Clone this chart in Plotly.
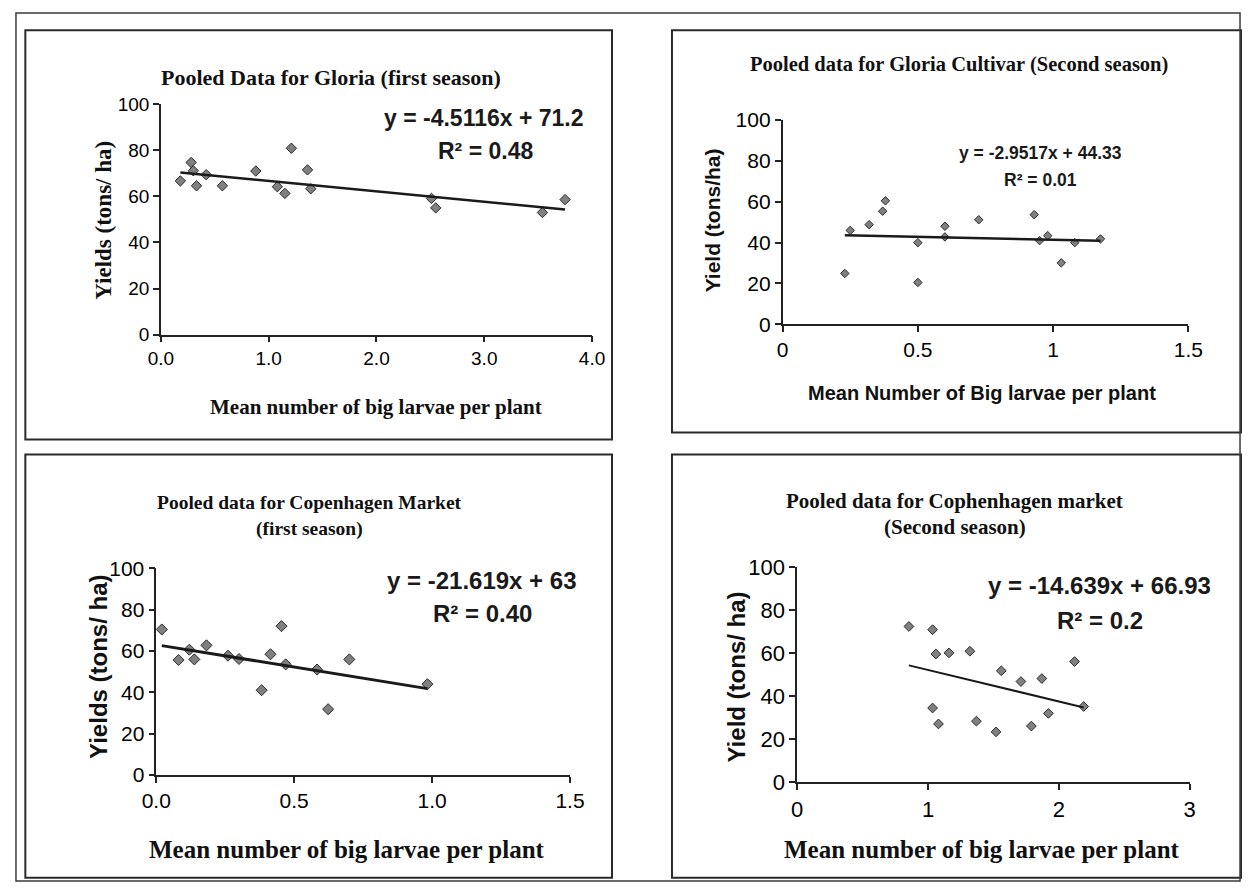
import plotly.graph_objects as go

W, H = 1256, 895

# ---------------- data ----------------
# Panel 1: Gloria, first season
p1_x = [0.18, 0.28, 0.30, 0.33, 0.42, 0.57, 0.88, 1.08, 1.15, 1.21, 1.36, 1.39, 2.51, 2.55, 3.54, 3.75]
p1_y = [66.7, 74.7, 71.1, 64.6, 69.4, 64.6, 71.0, 64.2, 61.3, 80.9, 71.5, 63.3, 59.1, 55.0, 53.0, 58.6]
p1_slope, p1_intercept = -4.5116, 71.2
p1_eq = "y = -4.5116x + 71.2"
p1_r2 = "R² = 0.48"
p1_xticks = [0, 1, 2, 3, 4]

# Panel 2: Gloria cultivar, second season
p2_x = [0.23, 0.25, 0.32, 0.37, 0.38, 0.50, 0.50, 0.60, 0.60, 0.725, 0.93, 0.95, 0.98, 1.03, 1.08, 1.175]
p2_y = [24.9, 46.0, 48.8, 55.4, 60.5, 40.0, 20.5, 48.0, 42.8, 51.2, 53.7, 41.0, 43.4, 30.1, 40.0, 41.8]
p2_slope, p2_intercept = -2.9517, 44.33
p2_eq = "y = -2.9517x + 44.33"
p2_r2 = "R² = 0.01"
p2_xticks = [0, 0.5, 1, 1.5]

# Panel 3: Copenhagen Market, first season
p3_x = [0.02, 0.081, 0.12, 0.138, 0.182, 0.26, 0.30, 0.382, 0.414, 0.454, 0.469, 0.583, 0.623, 0.70, 0.983]
p3_y = [70.4, 55.6, 60.6, 55.9, 62.7, 57.7, 56.1, 41.0, 58.4, 72.0, 53.5, 51.0, 31.8, 55.9, 43.9]
p3_slope, p3_intercept = -21.619, 63.0
p3_eq = "y = -21.619x + 63"
p3_r2 = "R² = 0.40"
p3_xticks = [0, 0.5, 1.0, 1.5]

# Panel 4: Copenhagen market, second season
p4_x = [0.854, 1.035, 1.06, 1.16, 1.32, 1.035, 1.08, 1.37, 1.52, 1.56, 1.71, 1.79, 1.87, 1.92, 2.12, 2.19]
p4_y = [72.5, 71.0, 59.7, 60.2, 61.0, 34.6, 27.2, 28.5, 23.5, 51.9, 46.9, 26.2, 48.3, 32.1, 56.2, 35.3]
p4_slope, p4_intercept = -14.639, 66.93
p4_eq = "y = -14.639x + 66.93"
p4_r2 = "R² = 0.2"
p4_xticks = [0, 1, 2, 3]

y_ticks = [0, 20, 40, 60, 80, 100]

SERIF = "Liberation Serif"
SANS = "Liberation Sans"

# layout helpers: target picture pixels -> figure pixels -> paper fractions
PADX, PADY = 15.0, 11.0


def sx(t):
    return min(max(t * (W + 2 * PADX) / W - PADX, 0.0), W)


def sy(t):
    return min(max(t * (H + 2 * PADY) / H - PADY, 0.0), H)


def px(t):
    return sx(t) / W


def py(t):
    return 1 - sy(t) / H


panels = [
    dict(x=p1_x, y=p1_y, m=p1_slope, b=p1_intercept, eq=p1_eq, r2=p1_r2, xt=p1_xticks, xr=[0, 4], fmt=".1f",
         area=(160.7, 592, 103.3, 334.7), tick_font=19, msize=8, lw=2.5,
         title=["Pooled Data for Gloria (first season)"], title_pos=[(331, 77)], title_size=22,
         xtitle="Mean number of big larvae per plant", xtitle_font=SERIF, xtitle_size=21, xtitle_pos=(376, 407),
         ytitle="Yields (tons/ ha)", ytitle_font=SERIF, ytitle_size=23, ytitle_pos=(103, 220),
         eq_size=23, eq_pos=(484, 117), r2_pos=(485, 150)),
    dict(x=p2_x, y=p2_y, m=p2_slope, b=p2_intercept, eq=p2_eq, r2=p2_r2, xt=p2_xticks, xr=[0, 1.5], fmt="",
         area=(782.7, 1188.7, 119.3, 324.3), tick_font=21, msize=6.5, lw=2.5,
         title=["Pooled data for Gloria Cultivar (Second season)"], title_pos=[(959, 63)], title_size=20.5,
         xtitle="Mean Number of Big larvae per plant", xtitle_font=SANS, xtitle_size=20, xtitle_pos=(982, 393),
         ytitle="Yield (tons/ha)", ytitle_font=SANS, ytitle_size=21, ytitle_pos=(712, 220),
         eq_size=17.5, eq_pos=(1041, 152), r2_pos=(1041, 179)),
    dict(x=p3_x, y=p3_y, m=p3_slope, b=p3_intercept, eq=p3_eq, r2=p3_r2, xt=p3_xticks, xr=[0, 1.5], fmt=".1f",
         area=(156, 570, 569.3, 776.7), tick_font=21, msize=8.5, lw=3,
         title=["Pooled data for Copenhagen Market", "(first season)"], title_pos=[(309, 503), (309, 530)],
         title_size=19.5,
         xtitle="Mean number of big larvae per plant", xtitle_font=SERIF, xtitle_size=25, xtitle_pos=(347, 852),
         ytitle="Yields (tons/ ha)", ytitle_font=SANS, ytitle_size=24, ytitle_pos=(98, 668),
         eq_size=24, eq_pos=(482, 582), r2_pos=(482, 615)),
    dict(x=p4_x, y=p4_y, m=p4_slope, b=p4_intercept, eq=p4_eq, r2=p4_r2, xt=p4_xticks, xr=[0, 3], fmt="",
         area=(797.3, 1190, 568.3, 784.3), tick_font=22, msize=7.5, lw=2,
         title=["Pooled data for Cophenhagen market", "(Second season)"], title_pos=[(955, 502), (955, 528)],
         title_size=21,
         xtitle="Mean number of big larvae per plant", xtitle_font=SERIF, xtitle_size=25, xtitle_pos=(982, 852),
         ytitle="Yield (tons/ ha)", ytitle_font=SANS, ytitle_size=24, ytitle_pos=(737, 678),
         eq_size=24, eq_pos=(1100, 587), r2_pos=(1100, 622)),
]

fig = go.Figure()
layout = dict(width=W, height=H, margin=dict(l=0, r=0, t=0, b=0), paper_bgcolor="white",
              plot_bgcolor="white", showlegend=False)
annotations = []
shapes = []

AX = "#222222"

for i, p in enumerate(panels, start=1):
    xa, ya = f"x{i}", f"y{i}"
    x0, x1, yt, yb = p["area"]
    xdom = [px(x0), px(x1)]
    ydom = [py(yb), py(yt)]

    # data points
    fig.add_trace(go.Scatter(x=p["x"], y=p["y"], mode="markers", xaxis=xa, yaxis=ya,
                             marker=dict(symbol="diamond", size=p["msize"], color="#808080",
                                         line=dict(color="#2a2a2a", width=1)),
                             cliponaxis=False))
    # trend line
    lx = [min(p["x"]), max(p["x"])]
    ly = [p["m"] * v + p["b"] for v in lx]
    fig.add_trace(go.Scatter(x=lx, y=ly, mode="lines", xaxis=xa, yaxis=ya,
                             line=dict(color="#1a1a1a", width=p["lw"])))

    layout[f"xaxis{i}"] = dict(domain=xdom, range=p["xr"], tickvals=p["xt"], showgrid=False, zeroline=False,
                               showline=True, linecolor=AX, linewidth=1.5, ticks="outside", tickcolor=AX,
                               tickwidth=1.5, ticklen=6, fixedrange=True, anchor=ya, tickformat=p["fmt"],
                               tickfont=dict(family=SANS, size=p["tick_font"], color="black"))
    layout[f"yaxis{i}"] = dict(domain=ydom, range=[0, 100], tickvals=y_ticks, showgrid=False, zeroline=False,
                               showline=True, linecolor=AX, linewidth=1.5, ticks="outside", tickcolor=AX,
                               tickwidth=1.5, ticklen=6, fixedrange=True, anchor=xa,
                               tickfont=dict(family=SANS, size=p["tick_font"], color="black"))

    # titles
    for t, (tx, ty) in zip(p["title"], p["title_pos"]):
        annotations.append(dict(text=f"<b>{t}</b>", x=px(tx), y=py(ty), xref="paper", yref="paper",
                                showarrow=False, xanchor="center", yanchor="middle",
                                font=dict(family=SERIF, size=p["title_size"], color="#111111")))
    tx, ty = p["xtitle_pos"]
    annotations.append(dict(text=f"<b>{p['xtitle']}</b>", x=px(tx), y=py(ty), xref="paper", yref="paper",
                            showarrow=False, xanchor="center", yanchor="middle",
                            font=dict(family=p["xtitle_font"], size=p["xtitle_size"], color="#111111")))
    tx, ty = p["ytitle_pos"]
    annotations.append(dict(text=f"<b>{p['ytitle']}</b>", x=px(tx), y=py(ty), xref="paper", yref="paper",
                            showarrow=False, xanchor="center", yanchor="middle", textangle=-90,
                            font=dict(family=p["ytitle_font"], size=p["ytitle_size"], color="#111111")))
    ex, ey = p["eq_pos"]
    annotations.append(dict(text=f"<b>{p['eq']}</b>", x=px(ex), y=py(ey), xref="paper", yref="paper",
                            showarrow=False, xanchor="center", yanchor="middle",
                            font=dict(family=SANS, size=p["eq_size"], color="#1a1a1a")))
    rx, ry = p["r2_pos"]
    annotations.append(dict(text=f"<b>{p['r2']}</b>", x=px(rx), y=py(ry), xref="paper", yref="paper",
                            showarrow=False, xanchor="center", yanchor="middle",
                            font=dict(family=SANS, size=p["eq_size"], color="#1a1a1a")))

# frames (target picture pixels)
frames = [(25, 29, 612, 440), (672, 29, 1250, 433), (25, 455, 612, 880), (672, 455, 1250, 880)]
for (a, b, c, d) in frames:
    shapes.append(dict(type="rect", xref="paper", yref="paper", x0=px(a), x1=px(c), y0=py(d), y1=py(b),
                       line=dict(color="#2a2a2a", width=2)))
shapes.append(dict(type="rect", xref="paper", yref="paper", x0=1.0 / W, x1=1 - 1.0 / W, y0=1.0 / H,
                   y1=1 - 1.0 / H, line=dict(color="#3a3a3a", width=1.5)))

layout["annotations"] = annotations
layout["shapes"] = shapes
fig.update_layout(**layout)
fig.write_html("out.html")
